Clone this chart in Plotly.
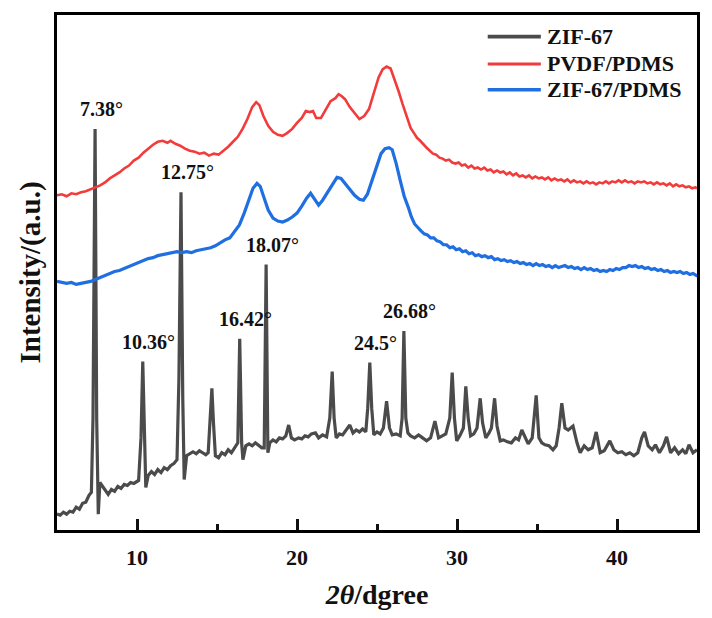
import plotly.graph_objects as go

# ---------------- data ----------------
zif_x = [5.0, 5.2, 5.4, 5.6, 5.8, 6.0, 6.2, 6.4, 6.6, 6.8, 7.0, 7.15, 7.25, 7.38, 7.48, 7.58, 7.68, 7.8, 8.0, 8.2,
         8.4, 8.6, 8.8, 9.0, 9.2, 9.4, 9.6, 9.8, 10.1, 10.25, 10.36, 10.46, 10.55, 10.7, 10.9, 11.1, 11.3, 11.5, 11.7, 11.9,
         12.1, 12.3, 12.5, 12.62, 12.75, 12.86, 12.95, 13.1, 13.3, 13.5, 13.7, 13.9, 14.1, 14.3, 14.45, 14.58, 14.68, 14.78, 14.9, 15.1,
         15.3, 15.5, 15.7, 15.9, 16.1, 16.3, 16.42, 16.54, 16.62, 16.8, 17.0, 17.2, 17.4, 17.6, 17.8, 17.95, 18.07, 18.18, 18.3, 18.5,
         18.7, 18.9, 19.1, 19.3, 19.48, 19.65, 19.85, 20.1, 20.3, 20.5, 20.7, 20.9, 21.15, 21.35, 21.6, 21.85, 22.05, 22.2, 22.32, 22.45,
         22.65, 22.85, 23.05, 23.3, 23.5, 23.7, 23.9, 24.1, 24.3, 24.42, 24.55, 24.67, 24.8, 25.0, 25.2, 25.4, 25.6, 25.78, 25.95, 26.2,
         26.45, 26.57, 26.68, 26.8, 26.93, 27.1, 27.35, 27.6, 27.85, 28.1, 28.35, 28.62, 28.85, 29.1, 29.3, 29.55, 29.7, 29.84, 29.98, 30.2,
         30.4, 30.55, 30.7, 30.85, 31.05, 31.25, 31.45, 31.6, 31.8, 32.0, 32.15, 32.35, 32.5, 32.7, 32.9, 33.15, 33.4, 33.65, 33.85, 34.05,
         34.25, 34.45, 34.7, 34.95, 35.12, 35.3, 35.5, 35.75, 36.0, 36.2, 36.38, 36.55, 36.75, 36.95, 37.25, 37.5, 37.7, 37.95, 38.2, 38.45,
         38.7, 38.95, 39.2, 39.55, 39.8, 40.05, 40.3, 40.55, 40.8, 41.05, 41.3, 41.55, 41.72, 41.95, 42.2, 42.4, 42.65, 42.9, 43.1, 43.35,
         43.6, 43.85, 44.1, 44.3, 44.5, 44.75, 45.0]
zif_y = [16, 15, 18, 16, 19, 18, 23, 21, 27, 28, 35, 38, 113, 405, 113, 16, 48, 45, 40, 36,
         41, 39, 44, 42, 46, 45, 48, 47, 50, 93, 170, 93, 43, 55, 59, 56, 61, 58, 63, 61,
         65, 67, 71, 153, 341, 133, 51, 75, 77, 79, 77, 80, 78, 76, 78, 113, 143, 108, 75, 73,
         78, 76, 81, 78, 83, 88, 193, 88, 71, 85, 87, 85, 88, 85, 83, 83, 268, 78, 88, 91,
         89, 93, 92, 95, 106, 93, 91, 93, 92, 95, 94, 97, 98, 93, 96, 94, 113, 160, 113, 93,
         97, 96, 101, 106, 98, 101, 99, 102, 99, 123, 169, 123, 96, 99, 97, 103, 130, 103, 96, 97,
         95, 113, 201, 113, 98, 95, 93, 96, 93, 90, 93, 110, 93, 95, 97, 113, 159, 113, 90, 96,
         103, 145, 113, 95, 97, 103, 133, 108, 93, 98, 103, 133, 105, 90, 91, 89, 88, 93, 91, 101,
         93, 87, 93, 136, 93, 88, 86, 85, 81, 85, 103, 128, 103, 101, 105, 88, 78, 85, 81, 83,
         99, 78, 80, 90, 81, 78, 79, 76, 78, 75, 78, 93, 99, 85, 81, 86, 78, 85, 94, 78,
         83, 77, 81, 77, 86, 78, 81]

pvdf_x = [5.0, 5.3, 5.6, 5.9, 6.2, 6.5, 6.8, 7.1, 7.4, 7.7, 8.0, 8.3, 8.6, 8.9, 9.2, 9.5, 9.8, 10.1, 10.4, 10.7,
          11.0, 11.3, 11.6, 11.9, 12.1, 12.4, 12.7, 13.0, 13.3, 13.6, 13.9, 14.2, 14.5, 14.8, 15.1, 15.4, 15.7, 16.0, 16.3, 16.6,
          16.9, 17.2, 17.45, 17.65, 17.9, 18.2, 18.5, 18.8, 19.1, 19.4, 19.7, 20.0, 20.3, 20.55, 20.8, 21.0, 21.2, 21.5, 21.8, 22.1,
          22.4, 22.6, 22.8, 23.0, 23.3, 23.6, 23.9, 24.2, 24.5, 24.8, 25.1, 25.35, 25.6, 25.85, 26.1, 26.35, 26.6,
          26.9, 27.1, 27.3, 27.5, 27.7, 27.9, 28.1, 28.3, 28.5, 28.7, 28.9, 29.1, 29.3, 29.5, 29.7, 29.9, 30.1, 30.3, 30.5, 30.7,
          30.9, 31.1, 31.3, 31.5, 31.7, 31.9, 32.1, 32.3, 32.5, 32.7, 32.9, 33.1, 33.3, 33.5, 33.7, 33.9, 34.1, 34.3, 34.5, 34.7,
          34.9, 35.1, 35.3, 35.5, 35.7, 35.9, 36.1, 36.3, 36.5, 36.7, 36.9, 37.1, 37.3, 37.5, 37.7, 37.9, 38.1, 38.3, 38.5, 38.7,
          38.9, 39.1, 39.3, 39.5, 39.7, 39.9, 40.1, 40.3, 40.5, 40.7, 40.9, 41.1, 41.3, 41.5, 41.7, 41.9, 42.1, 42.3, 42.5, 42.7,
          42.9, 43.1, 43.3, 43.5, 43.7, 43.9, 44.1, 44.3, 44.5, 44.7, 44.9, 45.0]
pvdf_y = [338, 339, 337, 340, 339, 341, 342, 344, 346, 348, 351, 355, 358, 361, 365, 368, 373, 376, 381, 385,
          389, 392, 393, 391, 393, 390, 388, 385, 383, 382, 380, 381, 378, 380, 379, 383, 387, 392, 397, 405,
          415, 427, 432, 429, 418, 408, 402, 399, 398, 401, 405, 411, 416, 423, 422, 423, 416, 416, 425, 433,
          436, 440, 438, 435, 427, 421, 415, 418, 425, 441, 457, 465, 468, 466, 455, 443, 430,
          415, 406, 401, 396, 393, 389, 386, 383, 380, 379, 376, 375, 373, 374, 371, 370, 371, 368, 369, 366,
          368, 365, 366, 364, 366, 363, 364, 361, 363, 361, 362, 359, 361, 358, 360, 357, 358, 356, 358, 355,
          357, 355, 356, 354, 356, 353, 355, 353, 354, 352, 354, 351, 353, 351, 352, 350, 352, 350, 351, 349,
          351, 350, 352, 350, 352, 351, 353, 351, 353, 351, 352, 350, 352, 351, 352, 350, 351, 349, 351, 349,
          350, 348, 350, 347, 349, 347, 348, 346, 347, 345, 346, 345]

zpd_x = [5.0, 5.3, 5.6, 5.9, 6.2, 6.5, 6.8, 7.1, 7.4, 7.7, 8.0, 8.3, 8.6, 8.9, 9.2, 9.5, 9.8, 10.1, 10.4, 10.7,
         11.0, 11.3, 11.6, 11.9, 12.2, 12.5, 12.8, 13.1, 13.4, 13.7, 14.0, 14.3, 14.6, 14.9, 15.2, 15.5, 15.8, 16.1, 16.4, 16.7,
         17.0, 17.25, 17.5, 17.7, 17.95, 18.2, 18.5, 18.8, 19.1, 19.4, 19.7, 20.0, 20.3, 20.6, 20.85, 21.1, 21.35, 21.6, 21.9, 22.2,
         22.5, 22.75, 23.0, 23.3, 23.6, 23.9, 24.15, 24.4, 24.7, 25.0, 25.25, 25.5, 25.75, 25.95, 26.2, 26.45, 26.7,
         26.95, 27.15, 27.35, 27.55, 27.75, 27.95, 28.15, 28.35, 28.55, 28.75, 28.95, 29.15, 29.35, 29.55, 29.75, 29.95, 30.15, 30.35, 30.55, 30.75,
         30.95, 31.15, 31.35, 31.55, 31.75, 31.95, 32.15, 32.35, 32.55, 32.75, 32.95, 33.15, 33.35, 33.55, 33.75, 33.95, 34.15, 34.35, 34.55, 34.75,
         34.95, 35.15, 35.35, 35.55, 35.75, 35.95, 36.15, 36.35, 36.55, 36.75, 36.95, 37.15, 37.35, 37.55, 37.75, 37.95, 38.15, 38.35, 38.55, 38.75,
         38.95, 39.15, 39.35, 39.55, 39.75, 39.95, 40.15, 40.35, 40.55, 40.75, 40.95, 41.15, 41.35, 41.55, 41.75, 41.95, 42.15, 42.35, 42.55, 42.75,
         42.95, 43.15, 43.35, 43.55, 43.75, 43.95, 44.15, 44.35, 44.55, 44.75, 44.95, 45.0]
zpd_y = [251, 250, 249, 250, 248, 249, 250, 251, 253, 255, 257, 259, 261, 262, 264, 266, 268, 270, 272, 274,
         275, 277, 278, 279, 280, 281, 280, 281, 280, 282, 283, 284, 285, 287, 290, 293, 295, 301, 308, 320,
         335, 345, 350, 347, 335, 323, 315, 312, 311, 313, 316, 320, 327, 335, 340, 334, 328, 333, 341, 349,
         356, 355, 350, 343, 338, 334, 333, 339, 353, 368, 380, 385, 386, 384, 370, 353, 337,
         326, 316, 309, 305, 302, 299, 298, 295, 295, 292, 291, 288, 288, 285, 286, 283, 284, 281, 282, 279,
         280, 277, 278, 276, 277, 275, 276, 273, 274, 272, 273, 271, 272, 270, 271, 269, 270, 268, 269, 267,
         269, 267, 268, 266, 267, 265, 267, 265, 266, 267, 265, 266, 264, 265, 263, 265, 263, 264, 262, 263,
         261, 262, 261, 263, 262, 264, 263, 265, 265, 267, 266, 267, 265, 266, 264, 265, 263, 264, 262, 263,
         261, 262, 260, 261, 260, 261, 259, 260, 258, 259, 257, 258]

series_names = ["ZIF-67", "PVDF/PDMS", "ZIF-67/PDMS"]
series_colors = ["#4b4b4b", "#f23b3b", "#1f6fe0"]

peak_labels = ["7.38°", "10.36°", "12.75°", "16.42°", "18.07°", "24.5°", "26.68°"]
peak_pos = [7.38, 10.36, 12.75, 16.42, 18.07, 24.55, 26.68]

x_ticks = [10, 20, 30, 40]

# ---------------- figure ----------------
FONT = "Liberation Serif"
TXT = "#111111"

fig = go.Figure()
widths = [3.2, 2.6, 3.2]
for (xs, ys), nm, col, w in zip([(zif_x, zif_y), (pvdf_x, pvdf_y), (zpd_x, zpd_y)],
                                series_names, series_colors, widths):
    fig.add_trace(go.Scatter(x=xs, y=ys, mode="lines", name=nm, showlegend=False,
                             line=dict(color=col, width=w)))

for lab, px in zip(peak_labels, peak_pos):
    idx = min(range(len(zif_x)), key=lambda i: abs(zif_x[i] - px))
    fig.add_annotation(x=zif_x[idx], y=zif_y[idx], text="<b>" + lab + "</b>",
                       showarrow=False, xanchor="center", yanchor="middle",
                       xshift=6, yshift=20,
                       font=dict(family=FONT, size=20, color=TXT))

# legend drawn as line samples + labels (paper coordinates)
leg_y = [0.958, 0.905, 0.855]
for nm, col, w, ly in zip(series_names, series_colors, widths, leg_y):
    fig.add_shape(type="line", xref="paper", yref="paper", x0=0.673, x1=0.756, y0=ly, y1=ly,
                  line=dict(color=col, width=w + 0.4))
    fig.add_annotation(xref="paper", yref="paper", x=0.762, y=ly, text="<b>" + nm + "</b>",
                       showarrow=False, xanchor="left", yanchor="middle",
                       font=dict(family=FONT, size=22, color=TXT))

fig.update_layout(
    width=712, height=618,
    margin=dict(l=57, r=12, t=13, b=85),
    paper_bgcolor="white", plot_bgcolor="white",
    font=dict(family=FONT, color=TXT),
    showlegend=False,
    xaxis=dict(range=[5, 45], tickvals=x_ticks, ticktext=["<b>%d</b>" % v for v in x_ticks],
               ticks="inside", ticklen=11, tickwidth=3, tickcolor="#111111",
               showline=True, linecolor="black", linewidth=2.5, mirror=True,
               showgrid=False, zeroline=False, ticklabelstandoff=6,
               tickfont=dict(family=FONT, size=22, color=TXT),
               minor=dict(dtick=5, tick0=0, ticks="inside", ticklen=6, tickwidth=2.5, tickcolor="#111111",
                          showgrid=False),
               title=dict(text="<b><i>2θ</i>/dgree</b>", font=dict(family=FONT, size=28, color=TXT),
                          standoff=16)),
    yaxis=dict(range=[0, 520], showticklabels=False, ticks="", showline=True, linecolor="black",
               linewidth=2.5, mirror=True, showgrid=False, zeroline=False,
               title=dict(text="<b>Intensity/(a.u.)</b>", font=dict(family=FONT, size=29, color=TXT),
                          standoff=6)),
)

fig.write_html("out.html")
